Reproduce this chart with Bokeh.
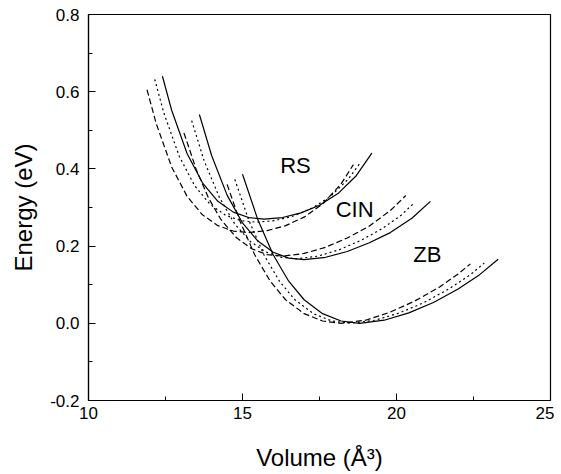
from bokeh.plotting import figure
from bokeh.models import Range1d, FixedTicker, PrintfTickFormatter, Label
from bokeh.embed import file_html
from bokeh.resources import INLINE

# ---- data (Volume in A^3, Energy in eV) ----
rs_solid_v = [12.4, 12.7, 13.2, 13.7, 14.2, 14.7, 15.2, 15.7, 16.3, 16.9, 17.5, 18.1, 18.7, 19.2]
rs_solid_e = [0.640, 0.552, 0.440, 0.364, 0.316, 0.288, 0.274, 0.270, 0.274, 0.286, 0.306, 0.336, 0.383, 0.441]
rs_dot_v = [12.15, 12.45, 12.95, 13.45, 13.95, 14.45, 14.95, 15.45, 16.05, 16.65, 17.25, 17.85, 18.45, 18.85]
rs_dot_e = [0.632, 0.544, 0.432, 0.356, 0.308, 0.280, 0.266, 0.262, 0.266, 0.278, 0.298, 0.328, 0.375, 0.419]
rs_dash_v = [11.9, 12.2, 12.7, 13.2, 13.7, 14.2, 14.7, 15.2, 15.8, 16.4, 17.0, 17.6, 18.2, 18.6]
rs_dash_e = [0.605, 0.517, 0.405, 0.329, 0.281, 0.253, 0.239, 0.235, 0.240, 0.253, 0.275, 0.309, 0.361, 0.411]

cin_solid_v = [13.6, 14.0, 14.5, 15.0, 15.5, 16.0, 16.5, 17.0, 17.7, 18.4, 19.1, 19.8, 20.5, 21.1]
cin_solid_e = [0.541, 0.434, 0.332, 0.260, 0.213, 0.184, 0.169, 0.165, 0.171, 0.186, 0.208, 0.235, 0.272, 0.316]
cin_dot_v = [13.35, 13.75, 14.25, 14.75, 15.25, 15.75, 16.25, 16.75, 17.45, 18.15, 18.85, 19.55, 20.15, 20.55]
cin_dot_e = [0.525, 0.422, 0.326, 0.257, 0.212, 0.185, 0.171, 0.167, 0.174, 0.191, 0.215, 0.246, 0.280, 0.310]
cin_dash_v = [13.1, 13.5, 13.9, 14.3, 14.8, 15.3, 15.8, 16.3, 17.0, 17.7, 18.4, 19.1, 19.8, 20.3]
cin_dash_e = [0.493, 0.398, 0.324, 0.269, 0.222, 0.193, 0.178, 0.174, 0.181, 0.197, 0.221, 0.251, 0.292, 0.331]

zb_solid_v = [15.0, 15.5, 16.0, 16.5, 17.0, 17.6, 18.2, 18.8, 19.6, 20.4, 21.2, 22.0, 22.7, 23.3]
zb_solid_e = [0.386, 0.268, 0.177, 0.109, 0.061, 0.025, 0.006, 0.000, 0.008, 0.027, 0.054, 0.089, 0.126, 0.166]
zb_dot_v = [14.75, 15.2, 15.7, 16.2, 16.7, 17.3, 17.9, 18.5, 19.3, 20.1, 20.9, 21.7, 22.4, 22.85]
zb_dot_e = [0.373, 0.268, 0.177, 0.109, 0.061, 0.025, 0.006, 0.000, 0.008, 0.027, 0.054, 0.089, 0.126, 0.156]
zb_dash_v = [14.5, 14.9, 15.4, 15.9, 16.4, 17.0, 17.6, 18.2, 19.0, 19.8, 20.6, 21.4, 22.0, 22.4]
zb_dash_e = [0.360, 0.268, 0.177, 0.109, 0.061, 0.025, 0.006, 0.000, 0.008, 0.029, 0.058, 0.094, 0.128, 0.154]

phase_labels = ["RS", "CIN", "ZB"]
phase_label_v = [16.72, 18.64, 21.0]
phase_label_e = [0.409, 0.295, 0.178]

x_ticks = [10, 15, 20, 25]
x_minor = [12.5, 17.5, 22.5]
y_ticks = [-0.2, 0.0, 0.2, 0.4, 0.6, 0.8]
y_minor = [-0.1, 0.1, 0.3, 0.5, 0.7]

FONT = "Liberation Sans"

p = figure(frame_width=462, frame_height=386,
           x_range=Range1d(10, 25), y_range=Range1d(-0.2, 0.8),
           output_backend="svg", toolbar_location=None,
           min_border_left=88, min_border_right=4, min_border_top=14, min_border_bottom=72,
           background_fill_color="white", border_fill_color="white")
p.grid.visible = False
p.outline_line_color = "black"
p.outline_line_width = 1.2

dash = "6 3"
dot = "2 3"
curves = [
    (rs_solid_v, rs_solid_e, "solid"), (rs_dot_v, rs_dot_e, dot), (rs_dash_v, rs_dash_e, dash),
    (cin_solid_v, cin_solid_e, "solid"), (cin_dot_v, cin_dot_e, dot), (cin_dash_v, cin_dash_e, dash),
    (zb_solid_v, zb_solid_e, "solid"), (zb_dot_v, zb_dot_e, dot), (zb_dash_v, zb_dash_e, dash),
]
for vx, ey, ld in curves:
    p.line(vx, ey, line_color="black", line_width=1.2, line_dash=ld)

for t, vx, ey in zip(phase_labels, phase_label_v, phase_label_e):
    p.add_layout(Label(x=vx, y=ey, text=t, text_align="center", text_baseline="middle",
                       text_font=FONT, text_font_size="22px", text_color="black"))

p.xaxis.ticker = FixedTicker(ticks=x_ticks, minor_ticks=x_minor)
p.yaxis.ticker = FixedTicker(ticks=y_ticks, minor_ticks=y_minor)
p.yaxis.formatter = PrintfTickFormatter(format="%.1f")
for ax in (p.xaxis[0], p.yaxis[0]):
    ax.major_tick_in = 7
    ax.major_tick_out = 0
    ax.minor_tick_in = 4
    ax.minor_tick_out = 0
    ax.axis_line_color = "black"
    ax.axis_line_width = 1.2
    ax.major_tick_line_color = "black"
    ax.minor_tick_line_color = "black"
    ax.major_label_text_font = FONT
    ax.major_label_text_font_size = "17px"
    ax.major_label_text_color = "black"
    ax.axis_label_text_font = FONT
    ax.axis_label_text_font_size = "24px"
    ax.axis_label_text_font_style = "normal"
    ax.axis_label_text_color = "black"

p.xaxis.axis_label = "Volume (Å³)"
p.yaxis.axis_label = "Energy (eV)"
p.xaxis.major_label_standoff = 6
p.xaxis.axis_label_standoff = 22
p.yaxis.major_label_standoff = 9
p.yaxis.axis_label_standoff = 10

open("out.html", "w").write(file_html(p, INLINE))
